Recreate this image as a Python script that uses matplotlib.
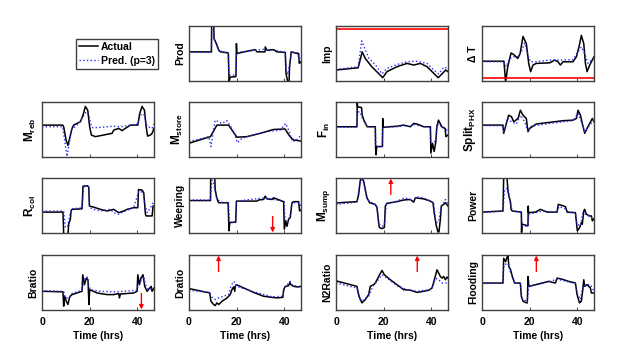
import matplotlib
matplotlib.use('Agg')
import matplotlib.pyplot as plt
from matplotlib.lines import Line2D

plt.rcParams['font.family'] = ['Liberation Sans', 'DejaVu Sans']
plt.rcParams['font.weight'] = 'bold'
plt.rcParams['font.size'] = 7.5
plt.rcParams['mathtext.fontset'] = 'custom'
plt.rcParams['mathtext.rm'] = 'Liberation Sans:bold'
plt.rcParams['mathtext.bf'] = 'Liberation Sans:bold'
plt.rcParams['mathtext.it'] = 'Liberation Sans:bold'

# dados (tempo em horas, valores normalizados 0-100)
prod_t_act = [0, 9.4, 9.5, 10.4, 10.5, 11.5, 12.5, 13.2, 16.5, 16.8, 17.3, 19.7, 19.9, 20.1, 24.3, 27.8, 28.5,
              31.9, 32.0, 32.7, 35.5, 36.9, 40.4, 40.7, 41.4, 42.0, 42.2, 42.9, 45.3, 46.0, 46.3, 47]
prod_act = [53, 53, 102, 101, 77, 68, 56, 53, 51, -1, 7, 8, 68, 50, 54, 57, 53,
            53, 62, 56, 57, 53, 52, 14, -1, -1, 26, 53, 50, 50, 32, 35]
prod_t_pred = [0, 9.4, 9.6, 10.3, 10.6, 11.5, 12.5, 16.5, 16.8, 17.5, 19.7, 20.0, 24, 28, 32, 33, 36,
               40.4, 40.8, 41.5, 42.2, 43, 45.5, 46.3, 47]
prod_pred = [52, 52, 95, 96, 75, 66, 55, 51, 12, 10, 11, 52, 54, 56, 58, 55, 56,
             52, 20, 12, 30, 53, 51, 38, 42]

imp_t_act = [0, 9.3, 11, 12.3, 15, 17.8, 19.6, 21.4, 25.6, 29.8, 32.6, 35.4, 38.2, 41, 42.9, 44.5, 46, 47]
imp_act = [20, 24, 53, 41, 26, 14, 6, 17, 26, 32, 29, 32, 26, 14, 6, 13, 20, 17]
imp_t_pred = [0, 9.3, 10.8, 11.8, 13.8, 16.6, 19.3, 21.4, 25.6, 29.8, 33.6, 35, 38.2, 41, 43.1, 45.2, 47]
imp_pred = [21, 26, 73, 62, 41, 29, 13, 23, 30, 35, 36, 35, 32, 20, 13, 25, 23]

dt_t_act = [0, 9.2, 9.9, 10.8, 12.2, 13.6, 15, 16, 17.2, 18.6, 19.6, 20.4, 21.4, 22.8, 28.4, 30.5, 31.9,
            32.9, 34, 38.2, 39.6, 40.7, 41.7, 42.7, 43.4, 44.1, 45.2, 47]
dt_act = [36, 36, -2, 26, 51, 47, 41, 50, 81, 68, 32, 17, 29, 32, 33, 38, 35,
          29, 35, 35, 44, 62, 83, 68, 32, 17, 29, 44]
dt_t_pred = [0, 9.2, 10.1, 11.6, 13.3, 15, 16.5, 17.9, 19.3, 20.3, 22.8, 28.4, 32.5, 38.2, 40.3, 41.7,
             43.1, 44.5, 45.9, 47]
dt_pred = [35, 35, 26, 41, 44, 44, 53, 69, 47, 35, 35, 38, 38, 39, 53, 62, 50, 32, 38, 41]

mreb_t_act = [0, 8.7, 9.1, 10.1, 10.9, 12.6, 13.3, 16.1, 17.2, 18.2, 19.2, 20, 20.7, 22.4, 25.9, 29.4, 30.1,
              32.2, 33.6, 35, 37.1, 40.2, 41, 42, 43, 43.7, 44.3, 45.5, 46.2, 47]
mreb_act = [58, 58, 55, 31, 21, 52, 58, 64, 76, 92, 85, 55, 40, 37, 40, 43, 49,
            52, 48, 52, 58, 58, 79, 92, 85, 55, 38, 40, 43, 52]
mreb_t_pred = [0, 8.7, 10.5, 12.3, 15.4, 17.2, 18.5, 19.6, 20.6, 21.4, 24.5, 30.1, 32.9, 37.1, 40.2, 41.3,
               42.7, 44.1, 45.1, 46.2, 47]
mreb_pred = [55, 55, 1, 49, 61, 73, 82, 76, 58, 53, 54, 56, 55, 58, 60, 76, 78, 55, 54, 52, 60]

mstore_t_act = [0, 9, 11.7, 16.6, 20.1, 24.3, 29.8, 35.4, 40.3, 42.4, 43.8, 47]
mstore_act = [25, 37, 58, 58, 36, 37, 43, 50, 51, 37, 31, 29]
mstore_t_pred = [0, 8.3, 9.2, 11, 12.5, 13.8, 15.9, 18, 20.4, 22.2, 27.1, 32.7, 38.3, 40.6, 42.1, 43.4,
                 45.2, 47]
mstore_pred = [28, 37, 19, 67, 64, 61, 66, 52, 26, 34, 40, 46, 49, 61, 46, 28, 31, 40]

fin_t_act = [0, 8.8, 8.9, 9.1, 10.7, 11, 11.7, 12.4, 13.1, 16.5, 16.6, 16.8, 17.1, 19.5, 19.6, 19.8,
             25.6, 28.4, 31.2, 32.6, 34, 36.8, 39.6, 39.8, 40.5, 41.2, 41.9, 42.3, 43, 44.4, 45.8, 46.1, 47]
fin_act = [55, 55, 100, 91, 90, 76, 67, 61, 55, 55, 19, 4, 19, 19, 70, 54,
           56, 58, 55, 61, 60, 55, 55, 7, 25, 10, 28, 55, 67, 55, 52, 37, 40]
fin_t_pred = [0, 8.8, 9.1, 10.1, 10.8, 12.2, 13, 16.5, 16.7, 19.3, 19.7, 25.6, 28.4, 31.2, 32.6, 36.8,
              39.6, 39.9, 41.2, 41.9, 42.3, 43, 44.4, 46, 47]
fin_pred = [54, 54, 82, 82, 73, 61, 55, 54, 19, 19, 54, 55, 57, 55, 59, 55,
            55, 25, 28, 28, 55, 60, 55, 50, 48]

split_t_act = [0, 8.8, 9.1, 10.2, 11.2, 12.4, 13.3, 15.1, 16.1, 17.2, 18.6, 19.3, 20, 22.8, 28.4, 34, 38.2,
               39.6, 40.3, 41.3, 42.1, 43.1, 44.1, 45.2, 46.3, 47]
split_act = [58, 58, 43, 61, 76, 73, 64, 70, 85, 76, 70, 46, 52, 60, 63, 66, 67,
             70, 85, 76, 61, 43, 52, 61, 70, 64]
split_t_pred = [0, 8.8, 9.1, 10.9, 12.3, 14.4, 16.1, 17.9, 19.3, 20.7, 28.4, 38.2, 40.3, 41.7, 43.1, 45.2, 47]
split_pred = [57, 57, 46, 70, 64, 60, 76, 64, 46, 56, 61, 66, 79, 64, 46, 58, 67]

rcol_t_act = [0, 8.8, 9.1, 10.9, 11.2, 11.9, 12.2, 12.6, 16.8, 17.2, 18.9, 19.6, 19.9, 21.7, 24.5, 27.3,
              30.1, 32.2, 34.3, 35.7, 38.5, 40.2, 40.5, 42, 42.7, 43.4, 43.7, 46.2, 46.6, 47]
rcol_act = [38, 38, -2, -2, 16, 25, 40, 43, 44, 85, 86, 84, 49, 47, 43, 40,
            43, 37, 40, 43, 46, 46, 79, 78, 73, 34, 31, 31, 49, 49]
rcol_t_pred = [0, 9.1, 9.8, 10.8, 11.9, 12.6, 16.8, 17.5, 19.6, 20, 22.4, 24.5, 28.7, 30.1, 32.2, 34.3,
               38.5, 40.6, 42.4, 43.1, 44.1, 45.5, 47]
rcol_pred = [40, 40, 10, 13, 37, 44, 46, 85, 85, 46, 42, 40, 43, 37, 34, 39,
             46, 76, 74, 55, 37, 46, 58]

weep_t_act = [0, 9, 9.1, 10.8, 11, 11.5, 12.1, 12.5, 16.4, 16.8, 17.1, 19.6, 19.9, 24.3, 28.5, 29.2, 31.3,
              32, 32.7, 34.8, 35.5, 39.7, 40, 40.6, 41.1, 41.8, 42.5, 43.2, 43.9, 46, 46.4, 47]
weep_act = [59, 59, 101, 101, 79, 67, 58, 55, 55, 4, 19, 20, 58, 58, 58, 60, 61,
            67, 62, 61, 64, 57, 7, 22, 12, 25, 28, 55, 57, 57, 40, 42]
weep_t_pred = [0, 9, 9.6, 10.3, 11.5, 13.2, 16.6, 17, 19.6, 19.9, 32, 39.9, 40.3, 41.3, 42.4, 43.2, 46.2, 47]
weep_pred = [60, 60, 96, 91, 64, 56, 55, 19, 19, 58, 64, 57, 25, 19, 31, 55, 55, 49]

msump_t_act = [0, 1.1, 8.8, 9.5, 10.2, 10.9, 11.6, 13, 14.1, 16.5, 17.2, 17.9, 18.2, 19.3, 20.3, 20.7,
               21.4, 25.6, 28.4, 31.2, 32.6, 33.3, 36.8, 39.6, 40.7, 41.2, 42.1, 42.8, 43.2, 43.8, 44.2,
               45.2, 45.9, 47]
msump_act = [54, 55, 57, 70, 96, 100, 94, 64, 55, 52, 46, 19, 10, 8, 10, 49,
             54, 57, 60, 61, 56, 64, 62, 58, 55, 37, 13, 2, 2, 25, 49, 52, 55, 49]
msump_t_pred = [0, 8.8, 9.9, 10.9, 11.6, 13, 15.1, 17.2, 17.9, 19.3, 20.3, 21.1, 25.6, 29.1, 32.6, 33.7,
                36.8, 39.6, 41, 41.7, 42.4, 43.2, 44.1, 45.2, 45.9, 47]
msump_pred = [52, 56, 88, 97, 91, 61, 55, 49, 16, 12, 14, 52, 58, 64, 58, 66,
              64, 58, 55, 25, 19, 22, 49, 55, 61, 52]

power_t_act = [0, 8.8, 9.1, 10.5, 10.9, 11.3, 11.9, 12.2, 12.7, 16.5, 16.6, 16.8, 19.3, 19.4, 19.5, 22.4,
               24.5, 27.3, 31.5, 32, 33.6, 35, 35.7, 39.2, 40, 41, 41.7, 42.1, 42.7, 43.1, 43.8, 45.2,
               45.9, 46.3, 47]
power_act = [38, 40, 101, 101, 76, 67, 58, 43, 40, 38, 1, 16, 13, 49, 37, 38,
             43, 38, 38, 52, 50, 48, 38, 37, 4, 10, 19, 16, 40, 43, 34, 31, 31, 22, 26]
power_t_pred = [0, 8.8, 9.5, 10.9, 11.6, 12.7, 16.5, 16.9, 19.3, 19.7, 25.6, 31.5, 32.3, 35, 36.4, 39.2,
                39.9, 41.3, 42.3, 44.8, 47]
power_pred = [37, 40, 79, 82, 61, 40, 38, 13, 12, 34, 40, 37, 48, 44, 37, 37, 16, 13, 37, 31, 25]

brat_t_act = [0, 8.8, 9.1, 9.5, 10.2, 10.9, 11.5, 11.9, 12.6, 16.8, 17.1, 17.8, 18.6, 19.3, 19.7, 20,
              23.1, 27.3, 30.1, 32.2, 32.5, 32.9, 38.5, 39.9, 40.2, 40.9, 41.5, 42.4, 43.1, 44.1, 45.8,
              46.2, 47]
brat_act = [34, 33, 7, 25, 16, 10, 22, 25, 28, 34, 64, 46, 58, 55, 10, 37,
            31, 28, 28, 30, 22, 29, 31, 34, 64, 46, 58, 64, 43, 34, 43, 34, 40]
brat_t_pred = [0, 9.1, 9.8, 11.2, 12.6, 16.8, 17.5, 18.9, 19.6, 20.3, 24.5, 31.5, 39.9, 40.6, 42, 42.7,
               43.4, 44.8, 47]
brat_pred = [35, 34, 22, 22, 30, 36, 55, 60, 46, 37, 34, 33, 36, 49, 55, 61, 46, 37, 40]

drat_t_act = [0, 8.7, 9.2, 10.3, 11, 11.7, 12.5, 13.9, 16, 17.3, 18, 18.7, 19.2, 19.4, 19.9, 23, 27.1,
              31.3, 34.8, 36.9, 39.4, 39.7, 40.4, 41.8, 42.3, 42.8, 43.9, 45.3, 47]
drat_act = [39, 31, 16, 10, 8, 13, 10, 16, 22, 28, 37, 42, 34, 43, 46, 40, 32,
            25, 23, 22, 23, 37, 43, 44, 50, 46, 43, 42, 43]
drat_t_pred = [0, 8.7, 9.2, 11, 12.5, 14.5, 16.6, 17.6, 18.7, 19.4, 20.1, 27.3, 34.8, 39.4, 40, 41.8,
               42.5, 43.2, 45.3, 47]
drat_pred = [36, 32, 25, 19, 22, 25, 28, 43, 52, 49, 43, 33, 24, 25, 40, 49, 52, 46, 43, 40]

n2_t_act = [0, 8.8, 9.5, 10.2, 10.9, 12.3, 13.7, 14.4, 15.8, 16.5, 17.9, 19.3, 20.3, 22.8, 25.6, 28.4,
            31.2, 34, 36.8, 38.9, 40.3, 40.9, 42.4, 43.1, 43.8, 44.5, 45.2, 45.9, 46.6, 47]
n2_act = [53, 43, 28, 19, 13, 19, 28, 43, 46, 49, 61, 72, 64, 55, 46, 37,
          36, 32, 34, 36, 40, 49, 73, 67, 61, 58, 61, 55, 60, 58]
n2_t_pred = [0, 8.8, 9.5, 10.9, 13.7, 15.8, 17.2, 19.3, 21.4, 25.6, 29.8, 34, 39.6, 40.7, 41.7, 43.1,
             44.5, 47]
n2_pred = [49, 40, 25, 16, 25, 46, 52, 64, 58, 44, 37, 34, 37, 43, 58, 55, 49, 49]

flood_t_act = [0, 8.8, 9.1, 9.9, 10.5, 10.9, 11.3, 12, 12.7, 13.7, 16.1, 16.5, 17.2, 18.6, 19, 19.3,
               19.7, 22.4, 25.2, 28, 30.8, 31.5, 33.6, 36.4, 39.2, 39.9, 40.9, 41.7, 42.3, 42.7, 43.1,
               44.1, 45.5, 45.9, 47]
flood_act = [49, 49, 94, 88, 96, 98, 79, 73, 61, 49, 49, 25, 16, 13, 13, 61,
             43, 46, 49, 52, 49, 58, 56, 52, 49, 28, 13, 16, 37, 55, 43, 46, 40, 31, 31]
flood_t_pred = [0, 8.8, 9.2, 10.9, 11.6, 13.7, 16.1, 16.7, 19, 19.6, 25.2, 31.5, 39.2, 39.9, 41.3, 42.3,
                44.1, 45.5, 47]
flood_pred = [48, 49, 82, 85, 73, 49, 48, 22, 14, 43, 48, 56, 48, 31, 19, 43, 46, 46, 34]

# linhas de limite (vermelho) e setas
imp_limit = 95
dt_limit = 6
arrow_panels = ['Weeping', 'Bratio', 'Dratio', 'Msump', 'N2Ratio', 'Flooding']
arrow_times = [35.1, 41.7, 12.4, 23.0, 34.1, 22.8]
arrow_dirs = ['down', 'down', 'up', 'up', 'up', 'up']

panels = [
    # (linha, coluna, nome, rotulo, t_act, act, t_pred, pred)
    (0, 1, 'Prod', 'Prod', prod_t_act, prod_act, prod_t_pred, prod_pred),
    (0, 2, 'Imp', 'Imp', imp_t_act, imp_act, imp_t_pred, imp_pred),
    (0, 3, 'dT', 'Δ T', dt_t_act, dt_act, dt_t_pred, dt_pred),
    (1, 0, 'Mreb', r'$\mathbf{M_{reb}}$', mreb_t_act, mreb_act, mreb_t_pred, mreb_pred),
    (1, 1, 'Mstore', r'$\mathbf{M_{store}}$', mstore_t_act, mstore_act, mstore_t_pred, mstore_pred),
    (1, 2, 'Fin', r'$\mathbf{F_{in}}$', fin_t_act, fin_act, fin_t_pred, fin_pred),
    (1, 3, 'Split', r'$\mathbf{Split_{PHX}}$', split_t_act, split_act, split_t_pred, split_pred),
    (2, 0, 'Rcol', r'$\mathbf{R_{col}}$', rcol_t_act, rcol_act, rcol_t_pred, rcol_pred),
    (2, 1, 'Weeping', 'Weeping', weep_t_act, weep_act, weep_t_pred, weep_pred),
    (2, 2, 'Msump', r'$\mathbf{M_{sump}}$', msump_t_act, msump_act, msump_t_pred, msump_pred),
    (2, 3, 'Power', 'Power', power_t_act, power_act, power_t_pred, power_pred),
    (3, 0, 'Bratio', 'Bratio', brat_t_act, brat_act, brat_t_pred, brat_pred),
    (3, 1, 'Dratio', 'Dratio', drat_t_act, drat_act, drat_t_pred, drat_pred),
    (3, 2, 'N2Ratio', 'N2Ratio', n2_t_act, n2_act, n2_t_pred, n2_pred),
    (3, 3, 'Flooding', 'Flooding', flood_t_act, flood_act, flood_t_pred, flood_pred),
]

fig = plt.figure(figsize=(6.28, 3.49), dpi=100)

lefts = [42, 189, 336, 482]
tops = [26, 102, 178, 255]
w_px, h_px = 112, 55

for row, col, name, label, ta, ya, tp, yp in panels:
    ax = fig.add_axes([lefts[col] / 628, 1 - (tops[row] + h_px) / 349, w_px / 628, h_px / 349])
    ax.plot(ta, ya, color='black', lw=1.1)
    ax.plot(tp, yp, color='#2a2aff', lw=1.0, ls=':')
    ax.set_xlim(0, 47)
    ax.set_ylim(0, 100)
    ax.set_yticks([])
    ax.set_xticks([0, 20, 40])
    ax.tick_params(axis='x', direction='in', length=2, width=0.6, color='#262626', pad=5)
    for s in ax.spines.values():
        s.set_color('#404040')
        s.set_linewidth(1.0)
    lsize = 8.5 if label.startswith('$') else 7.5
    ax.set_ylabel(label, labelpad=3, fontweight='bold', fontsize=lsize)
    if row == 3:
        ax.set_xlabel('Time (hrs)', fontweight='bold', labelpad=3)
    else:
        ax.set_xticklabels([])
    if name == 'Imp':
        ax.axhline(imp_limit, color='red', lw=1.2)
    if name == 'dT':
        ax.axhline(dt_limit, color='red', lw=1.2)
    if name in arrow_panels:
        i = arrow_panels.index(name)
        t = arrow_times[i]
        if arrow_dirs[i] == 'up':
            y0, y1 = 0.70, 0.99
        else:
            y0, y1 = 0.30, 0.01
        ax.annotate('', xy=(t, y1), xycoords=('data', 'axes fraction'),
                    xytext=(t, y0), textcoords=('data', 'axes fraction'),
                    arrowprops=dict(arrowstyle='-|>', color='red', lw=1.0, mutation_scale=6,
                                    shrinkA=0, shrinkB=0))

handles = [Line2D([], [], color='black', lw=1.1),
           Line2D([], [], color='#2a2aff', lw=1.0, ls=':')]
fig.legend(handles, ['Actual', 'Pred. (p=3)'], loc='upper left',
           bbox_to_anchor=(76 / 628, 1 - 39 / 349), frameon=True, fancybox=False,
           edgecolor='#404040', framealpha=1, handlelength=1.8, handletextpad=0.3,
           borderpad=0.3, labelspacing=0.35, borderaxespad=0, prop={'weight': 'bold', 'size': 7.5})

fig.savefig('out.png', dpi=100)
